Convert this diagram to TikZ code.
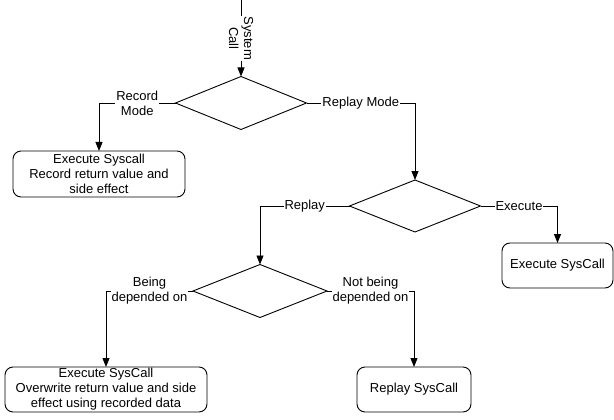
\documentclass[tikz,border=0pt]{standalone}
\usepackage{fontspec}
\setmainfont{Liberation Sans}
\usetikzlibrary{shapes.geometric,arrows.meta}
\begin{document}
\begin{tikzpicture}[x=1pt,y=-1pt,
  every node/.style={font=\fontsize{13}{15}\selectfont},
  dec/.style={draw,shape=diamond,inner sep=0pt,outer sep=0pt,line width=0.9pt},
  box/.style={draw,rectangle,rounded corners=8pt,align=center,inner sep=1pt,outer sep=0pt,line width=0.9pt},
  arr/.style={line width=0.9pt,-{Triangle[length=9pt,width=7pt]}},
  lbl/.style={fill=white,inner sep=1pt,align=center}]
\useasboundingbox (0,0) rectangle (614,420);
\coordinate (start) at (241,0);
\node[dec,minimum width=131pt,minimum height=53pt] (d1) at (241,103) {};
\node[dec,minimum width=131pt,minimum height=52pt] (d2) at (415,206) {};
\node[dec,minimum width=134pt,minimum height=53pt] (d3) at (260,291) {};
\node[box,minimum width=172pt,minimum height=46pt] (b1) at (99,174) {Execute Syscall\\Record return value and\\side effect};
\node[box,minimum width=111pt,minimum height=45pt] (b3) at (557.5,265.5) {Execute SysCall};
\node[box,minimum width=202pt,minimum height=45pt] (b4) at (106,389.5) {Execute SysCall\\Overwrite return value and side\\effect using recorded data};
\node[box,minimum width=114pt,minimum height=45pt] (b5) at (414,389.5) {Replay SysCall};
\draw[arr] (start) -- node[lbl,rotate=-90]{System\\Call} (d1.north);
\draw[arr] (d1.west) -| node[lbl,pos=0.25]{Record\\Mode} (b1.north);
\draw[arr] (d1.east) -| node[lbl,pos=0.25]{Replay Mode} (d2.north);
\draw[arr] (d2.west) -| node[lbl,pos=0.25]{Replay} (d3.north);
\draw[arr] (d2.east) -| node[lbl,pos=0.25]{Execute} (b3.north);
\draw[arr] (d3.west) -| node[lbl,pos=0.25]{Being\\depended on} (b4.north);
\draw[arr] (d3.east) -| node[lbl,pos=0.25]{Not being\\depended on} (b5.north);
\end{tikzpicture}
\end{document}
